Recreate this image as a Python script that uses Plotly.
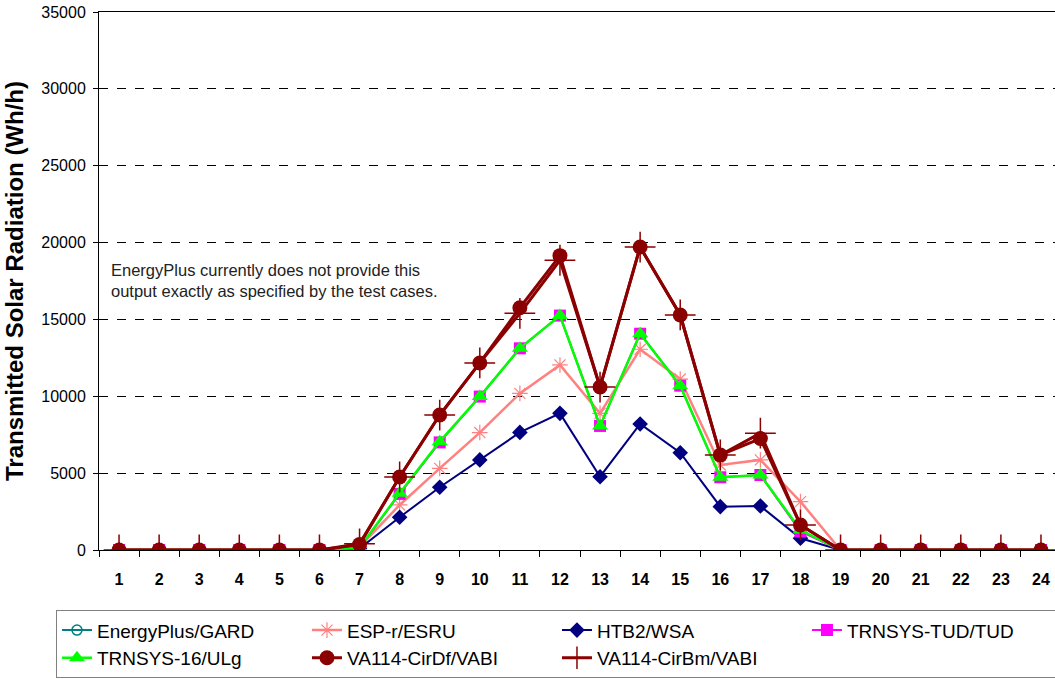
import plotly.graph_objects as go

# Hourly transmitted solar radiation (Wh/h)
hours = [str(h) for h in range(1, 25)]

energyplus = [None] * 24  # not provided by EnergyPlus
esp_r = [0, 0, 0, 0, 0, 0, 200, 2930, 5310, 7640, 10190, 12040, 8890, 13060, 11120, 5530, 5860, 3150,
         0, 0, 0, 0, 0, 0]
htb2 = [0, 0, 0, 0, 0, 0, 100, 2130, 4080, 5860, 7650, 8890, 4770, 8200, 6330, 2820, 2860, 760,
        0, 0, 0, 0, 0, 0]
trnsys_tud = [0, 0, 0, 0, 0, 0, 150, 3650, 7000, 9980, 13120, 15250, 8070, 14070, 10690, 4730, 4880, 1200,
              0, 0, 0, 0, 0, 0]
trnsys_16 = [0, 0, 0, 0, 0, 0, 150, 3700, 7050, 9980, 13120, 15250, 8070, 14070, 10690, 4730, 4880, 1300,
             0, 0, 0, 0, 0, 0]
va114_df = [0, 0, 0, 0, 0, 0, 350, 4750, 8780, 12170, 15760, 19150, 10600, 19710, 15290, 6180, 7250, 1630,
            0, 0, 0, 0, 0, 0]
va114_bm = [0, 0, 0, 0, 0, 0, 400, 4750, 8780, 12170, 15400, 18850, 10600, 19710, 15290, 6180, 7600, 1630,
            0, 0, 0, 0, 0, 0]

FONT = "Arial, Liberation Sans, sans-serif"

fig = go.Figure()

def add(name, y, color, symbol, size, width, mline=0):
    fig.add_trace(go.Scatter(
        x=hours, y=y, name=name, mode="lines+markers", showlegend=True,
        line=dict(color=color, width=width),
        marker=dict(symbol=symbol, size=size, color=color,
                    line=dict(color=color, width=mline)),
    ))

add("EnergyPlus/GARD", energyplus, "#008080", "circle-open", 10, 2, 1.5)
add("ESP-r/ESRU", esp_r, "#FF8080", "asterisk-open", 13, 2.5, 1.2)
add("HTB2/WSA", htb2, "#000080", "diamond", 12, 2)
add("TRNSYS-TUD/TUD", trnsys_tud, "#FF00FF", "square", 12, 2)
add("TRNSYS-16/ULg", trnsys_16, "#00FF00", "triangle-up", 14, 2.5)
add("VA114-CirDf/VABI", va114_df, "#8B0000", "circle", 15, 3)
add("VA114-CirBm/VABI", va114_bm, "#8B0000", "cross-thin-open", 22, 3, 1.5)

fig.add_annotation(
    xref="paper", yref="paper", x=0.01, y=0.54, xanchor="left", yanchor="top",
    text="EnergyPlus currently does not provide this<br>output exactly as specified by the test cases.",
    showarrow=False, align="left", font=dict(family=FONT, size=16.5, color="#222222"),
)

fig.update_layout(
    width=1055, height=679,
    margin=dict(l=99, r=0, t=12, b=129, autoexpand=False),
    plot_bgcolor="white", paper_bgcolor="white",
    font=dict(family=FONT, size=14, color="black"),
    showlegend=True,
    legend=dict(
        orientation="h", x=-0.045, y=-0.112, xanchor="left", yanchor="top",
        entrywidth=205, entrywidthmode="pixels",
        bordercolor="#808080", borderwidth=1, bgcolor="white",
        font=dict(family=FONT, size=19, color="black"),
        tracegroupgap=0, itemwidth=30,
    ),
    xaxis=dict(
        type="category", range=[-0.5, 23.35], tickson="boundaries",
        ticks="outside", ticklen=6, tickcolor="black",
        showline=True, linecolor="black", linewidth=1, mirror=True,
        showgrid=False, zeroline=False, automargin=False,
        ticklabelstandoff=15,
        tickfont=dict(family=FONT, size=16, color="black", weight="bold"),
    ),
    yaxis=dict(
        range=[0, 35000], dtick=5000, tickformat="d",
        ticks="outside", ticklen=5, tickcolor="black",
        showline=True, linecolor="black", linewidth=1,
        showgrid=True, gridcolor="black", gridwidth=1, griddash="dash",
        zeroline=False, automargin=False, ticklabelstandoff=4,
        tickfont=dict(family=FONT, size=16, color="black"),
        title=dict(text="Transmitted Solar Radiation (Wh/h)", standoff=10,
                   font=dict(family=FONT, size=24, color="black", weight="bold")),
    ),
)

# drop the default 8px page margin so the figure fills the window
fig.write_html("out.html", config={"displayModeBar": False},
               post_script="document.body.style.margin = '0';")
